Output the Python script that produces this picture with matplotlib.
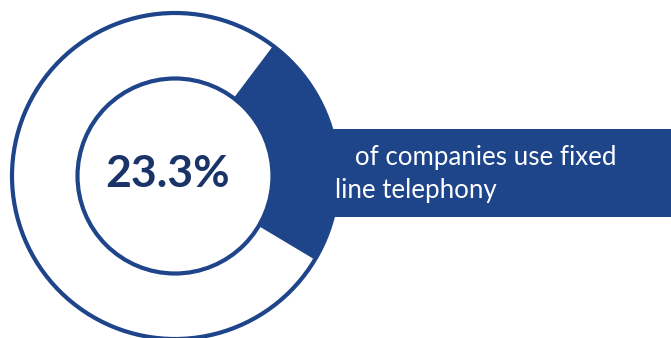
import matplotlib
matplotlib.use("Agg")
import matplotlib.pyplot as plt
from matplotlib.patches import Circle, Wedge, Rectangle

# Data
share_pct = 23.3
value_label = "23.3%"
caption_lines = ["   of companies use fixed", "line telephony"]

BLUE = "#1e448a"
NAVY = "#1b3468"

W, H = 671, 338
fig = plt.figure(figsize=(W / 100, H / 100), dpi=100)
ax = fig.add_axes([0, 0, 1, 1])
ax.set_xlim(0, W)
ax.set_ylim(0, H)
ax.set_aspect("equal")
ax.axis("off")

cx, cy = 175, 162
r_out, r_in = 163, 97.5
lw = 3.0

# Filled segment of the ring representing the share
span = share_pct / 100 * 360
end_angle = 53
ax.add_patch(Wedge((cx, cy), r_out + 1.5, end_angle - span, end_angle,
                   width=(r_out + 1.5) - (r_in - 1.5), facecolor=BLUE,
                   edgecolor="none", zorder=2))

# Banner carrying the caption
ax.add_patch(Rectangle((320, H - 217), W - 320, 88, facecolor=BLUE,
                       edgecolor="none", zorder=2))

# Ring outlines
ax.add_patch(Circle((cx, cy), r_out, fill=False, edgecolor=BLUE, linewidth=lw, zorder=3))
ax.add_patch(Circle((cx, cy), r_in, fill=False, edgecolor=BLUE, linewidth=lw, zorder=3))

ax.text(cx - 7, H - 187, value_label, ha="center", va="baseline", color=NAVY,
        fontsize=32, fontweight="bold", family="Lato", zorder=4)

ax.text(335, H - 165, caption_lines[0], ha="left", va="baseline", color="white",
        fontsize=18.6, family="Lato", zorder=4)
ax.text(335, H - 198, caption_lines[1], ha="left", va="baseline", color="white",
        fontsize=18.6, family="Lato", zorder=4)

fig.savefig("out.png", dpi=100, facecolor="white")
